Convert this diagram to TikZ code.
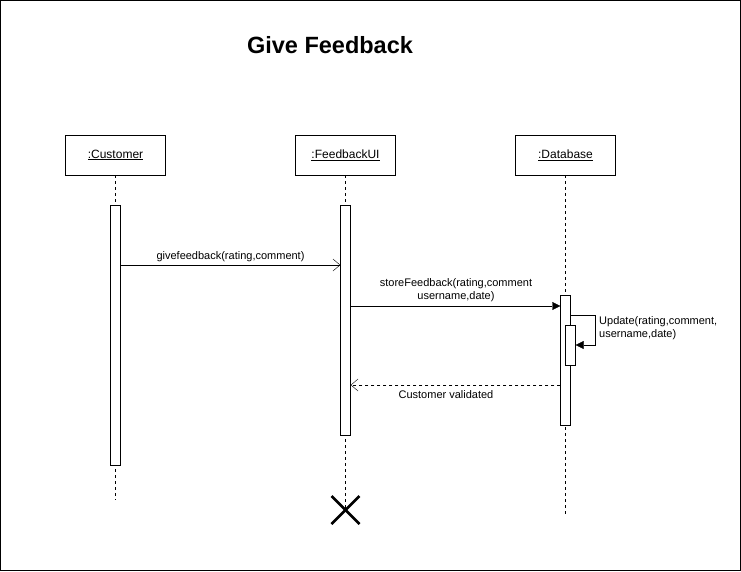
\documentclass[tikz,border=0pt]{standalone}
\usepackage{fontspec}
\setmainfont{Liberation Sans}
\usetikzlibrary{arrows.meta,calc}

\tikzset{
  objbox/.style={draw, minimum width=100pt, minimum height=40pt, inner sep=0pt,
    font=\fontsize{12}{14}\selectfont},
  actbox/.style={draw, fill=white, minimum width=10pt, inner sep=0pt},
  lifeline/.style={dash pattern=on 3pt off 3pt},
  msglabel/.style={font=\fontsize{11}{13.5}\selectfont, inner sep=1pt},
  callarrow/.style={-{Triangle[length=8pt,width=8pt]}},
  openarrow/.style={-{Straight Barb[length=7pt,width=12pt]}}
}

\begin{document}
\begin{tikzpicture}[x=1pt,y=-1pt]
\useasboundingbox (0,0) rectangle (741,571);
\draw (0.5,0.5) rectangle (740.5,570.5);

\node[font=\bfseries\fontsize{23.5}{28}\selectfont] (title) at (330,45) {Give Feedback};

% objects
\node[objbox] (customer) at (115.5,155) {\underline{:Customer}};
\node[objbox] (ui) at (345.5,155) {\underline{:FeedbackUI}};
\node[objbox] (db) at (565.5,155) {\underline{:Database}};

% lifelines
\coordinate (customerend) at (115.5,500);
\coordinate (uiend) at (345.5,510);
\coordinate (dbend) at (565.5,515);
\draw[lifeline] (customer.south) -- (customerend);
\draw[lifeline] (ui.south) -- (uiend);
\draw[lifeline] (db.south) -- (dbend);

% activations
\node[actbox, minimum height=260pt] (customeract) at (115.5,335) {};
\node[actbox, minimum height=230pt] (uiact) at (345.5,320) {};
\node[actbox, minimum height=130pt] (dbact) at (565.5,360) {};
\node[actbox, minimum height=40pt] (dbself) at (570.5,345) {};

% messages
\draw[openarrow] (customeract.east |- 0,265) -- (uiact.west |- 0,265);
\node[msglabel] (msg1) at (230.5,257) {givefeedback(rating,comment)};

\draw[callarrow] (uiact.east |- 0,306) -- (dbact.west |- 0,306);
\node[msglabel, align=center] (msg2) at (456,290) {storeFeedback(rating,comment\\username,date)};

\draw[callarrow] (dbact.east |- 0,315) -| (595.5,345) -- (dbself.east |- 0,345);
\node[msglabel, align=left, anchor=west] (msg3) at (598,328) {Update(rating,comment,\\username,date)};

\draw[openarrow, lifeline] (dbact.west |- 0,385) -- (uiact.east |- 0,385);
\node[msglabel] (msg4) at (446,395) {Customer validated};

% destruction
\draw[line width=2.5pt] ($(uiend)+(-14,-14)$) -- ($(uiend)+(14,14)$);
\draw[line width=2.5pt] ($(uiend)+(-14,14)$) -- ($(uiend)+(14,-14)$);
\end{tikzpicture}
\end{document}
